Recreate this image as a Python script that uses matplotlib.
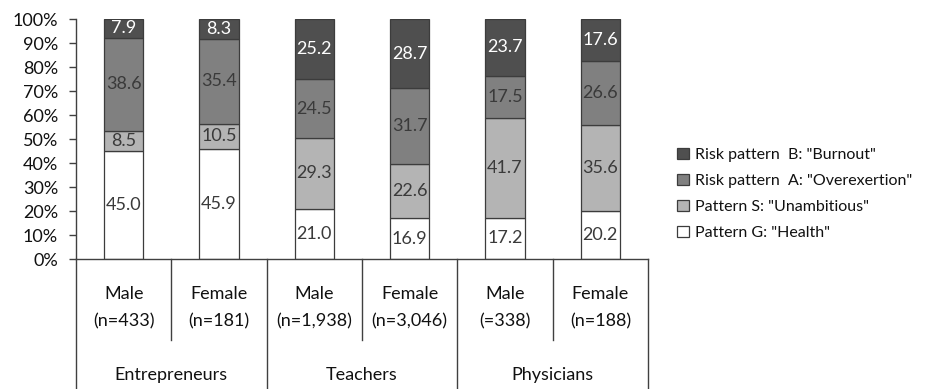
import numpy as np
import matplotlib
matplotlib.use('Agg')
import matplotlib.pyplot as plt
from matplotlib.transforms import blended_transform_factory

plt.rcParams['font.family'] = ['Lato', 'DejaVu Sans']

sexes = ['Male', 'Female', 'Male', 'Female', 'Male', 'Female']
sizes = ['(n=433)', '(n=181)', '(n=1,938)', '(n=3,046)', '(=338)', '(n=188)']
groups = ['Entrepreneurs', 'Teachers', 'Physicians']

health = [45.0, 45.9, 21.0, 16.9, 17.2, 20.2]
unambitious = [8.5, 10.5, 29.3, 22.6, 41.7, 35.6]
overexertion = [38.6, 35.4, 24.5, 31.7, 17.5, 26.6]
burnout = [7.9, 8.3, 25.2, 28.7, 23.7, 17.6]

series = [
    ('Pattern G: "Health"', health, '#ffffff', '#3a3a3a'),
    ('Pattern S: "Unambitious"', unambitious, '#b4b4b4', '#3a3a3a'),
    ('Risk pattern  A: "Overexertion"', overexertion, '#808080', '#3a3a3a'),
    ('Risk pattern  B: "Burnout"', burnout, '#4f4f4f', '#ffffff'),
]

W, H = 935, 389
fig = plt.figure(figsize=(W / 100, H / 100), dpi=100)
ax = fig.add_axes([76 / W, 1 - 259 / H, (648 - 76) / W, (259 - 19) / H])

x = np.arange(len(sexes)) + 0.5
bottom = np.zeros(len(sexes))
handles = []
for name, vals, col, tcol in series:
    vals = np.array(vals)
    b = ax.bar(x, vals / 100, 0.41, bottom=bottom / 100, color=col,
               edgecolor='#3c3c3c', linewidth=0.9, label=name)
    handles.append(b)
    for xi, v, b0 in zip(x, vals, bottom):
        ax.text(xi, (b0 + v / 2) / 100, f'{v:.1f}', ha='center', va='center',
                fontsize=13, color=tcol)
    bottom += vals

ax.set_xlim(0, 6)
ax.set_ylim(0, 1)
ax.set_yticks(np.linspace(0, 1, 11))
ax.set_yticklabels([f'{int(t)}%' for t in np.arange(0, 101, 10)],
                   fontsize=13, color='#111111')
ax.set_xticks([])
ax.tick_params(axis='y', length=5, width=1, color='#404040', pad=8)
for s in ['top', 'right']:
    ax.spines[s].set_visible(False)
for s in ['left', 'bottom']:
    ax.spines[s].set_color('#404040')
    ax.spines[s].set_linewidth(1)

# category table under the axis
tr = blended_transform_factory(ax.transData, fig.transFigure)
lc = '#404040'
for xb in [0, 2, 4, 6]:
    ax.plot([xb, xb], [1 - 259 / H, 0], transform=tr, color=lc, lw=1, clip_on=False)
for xb in [1, 3, 5]:
    ax.plot([xb, xb], [1 - 259 / H, 1 - 340 / H], transform=tr, color=lc, lw=1, clip_on=False)
for xi, s1, s2 in zip(x, sexes, sizes):
    fig.text(xi, 1 - 294 / H, s1, transform=tr, ha='center', va='center',
             fontsize=13, color='#111111')
    fig.text(xi, 1 - 321 / H, s2, transform=tr, ha='center', va='center',
             fontsize=13, color='#111111')
for xi, g in zip([1, 3, 5], groups):
    fig.text(xi, 1 - 375 / H, g, transform=tr, ha='center', va='center',
             fontsize=13, color='#111111')

fig.legend(handles[::-1], [h.get_label() for h in handles[::-1]],
           loc='center left', bbox_to_anchor=(663 / W, 1 - 194 / H),
           frameon=False, fontsize=11.5, handlelength=0.7, handleheight=0.7,
           handletextpad=0.4, labelspacing=0.75, labelcolor='#111111')

fig.savefig('out.png', dpi=100)
